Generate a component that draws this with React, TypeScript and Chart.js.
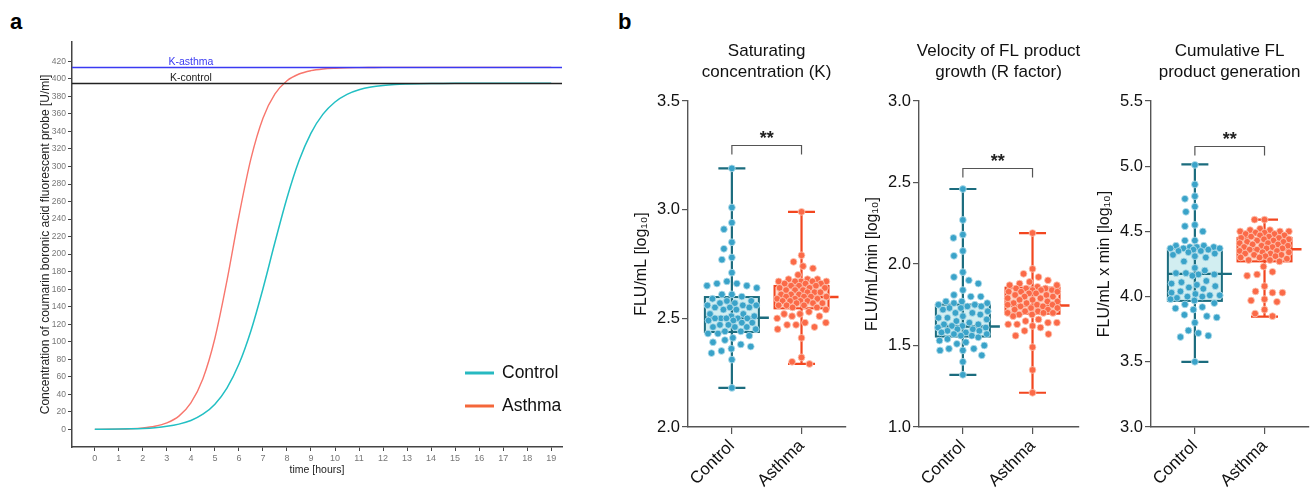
import React, { useEffect, useRef } from 'react';
import { Chart, registerables } from 'chart.js';

Chart.register(...registerables);

const FONT = "'Liberation Sans', Arial, Helvetica, sans-serif";

// ---------- Panel a: logistic growth curves ----------
const HOURS = [0, 0.5, 1, 1.5, 2, 2.5, 3, 3.5, 4, 4.5, 5, 5.5, 6, 6.5, 7, 7.5, 8, 8.5, 9, 9.5, 10, 10.5, 11, 11.5, 12, 12.5, 13, 13.5, 14, 14.5, 15, 15.5, 16, 16.5, 17, 17.5, 18, 18.5, 19];
const CONTROL_CURVE = [0.14, 0.24, 0.41, 0.71, 1.22, 2.09, 3.56, 6.09, 10.3, 17.4, 28.9, 47.2, 74.6, 112.7, 160.6, 213.5, 264.1, 306.5, 338.1, 359.7, 373.6, 382.3, 387.5, 390.6, 392.4, 393.5, 394.1, 394.5, 394.7, 394.8, 394.9, 395, 395, 395, 395, 395, 395, 395, 395];
const ASTHMA_CURVE = [0.1, 0.2, 0.42, 0.87, 1.79, 3.68, 7.52, 15.2, 30.3, 57.9, 104.1, 169.5, 243.5, 308.9, 355.1, 382.7, 397.8, 405.5, 409.3, 411.2, 412.1, 412.6, 412.8, 412.9, 413, 413, 413, 413, 413, 413, 413, 413, 413, 413, 413, 413, 413, 413, 413];
const K_CONTROL = 395;
const K_ASTHMA = 413;
const K_LABEL_HOUR = 4;
const TIME_TICKS = [0, 1, 2, 3, 4, 5, 6, 7, 8, 9, 10, 11, 12, 13, 14, 15, 16, 17, 18, 19];
const CONC_TICKS = [0, 20, 40, 60, 80, 100, 120, 140, 160, 180, 200, 220, 240, 260, 280, 300, 320, 340, 360, 380, 400, 420];
const LEGEND_LABELS = ['Control', 'Asthma'];

// ---------- Panel b: box plots ----------
const GROUPS = ['Control', 'Asthma'];

const K_CONTROL_VALUES = [3.19, 3.01, 2.94, 2.91, 2.85, 2.82, 2.78, 2.77, 2.71, 2.67, 2.66, 2.66, 2.65, 2.65, 2.64, 2.61, 2.61, 2.60, 2.59, 2.58, 2.58, 2.57, 2.57, 2.56, 2.56, 2.56, 2.55, 2.55, 2.55, 2.54, 2.54, 2.52, 2.52, 2.51, 2.51, 2.50, 2.50, 2.50, 2.50, 2.50, 2.49, 2.49, 2.48, 2.48, 2.47, 2.47, 2.46, 2.46, 2.46, 2.45, 2.44, 2.44, 2.43, 2.43, 2.42, 2.41, 2.40, 2.39, 2.38, 2.37, 2.36, 2.35, 2.34, 2.31, 2.18];
const K_ASTHMA_VALUES = [2.99, 2.79, 2.76, 2.74, 2.73, 2.70, 2.68, 2.68, 2.68, 2.67, 2.67, 2.67, 2.67, 2.67, 2.66, 2.66, 2.66, 2.65, 2.65, 2.65, 2.64, 2.64, 2.64, 2.63, 2.63, 2.63, 2.62, 2.62, 2.62, 2.61, 2.61, 2.61, 2.60, 2.60, 2.60, 2.60, 2.59, 2.59, 2.59, 2.58, 2.58, 2.58, 2.58, 2.57, 2.57, 2.57, 2.56, 2.56, 2.56, 2.55, 2.55, 2.54, 2.53, 2.52, 2.52, 2.51, 2.51, 2.50, 2.48, 2.48, 2.47, 2.47, 2.46, 2.45, 2.41, 2.32, 2.30, 2.29];
const K_CONTROL_BOX = [2.18, 2.437, 2.503, 2.598, 3.19]; // min, q1, median, q3, max
const K_ASTHMA_BOX = [2.29, 2.546, 2.598, 2.649, 2.99];

const R_CONTROL_VALUES = [2.46, 2.27, 2.18, 2.16, 2.08, 2.05, 1.95, 1.92, 1.90, 1.88, 1.84, 1.81, 1.80, 1.80, 1.77, 1.77, 1.76, 1.76, 1.75, 1.75, 1.74, 1.74, 1.73, 1.73, 1.72, 1.71, 1.70, 1.70, 1.69, 1.68, 1.67, 1.67, 1.66, 1.65, 1.64, 1.63, 1.63, 1.62, 1.62, 1.61, 1.61, 1.60, 1.60, 1.59, 1.59, 1.58, 1.58, 1.57, 1.57, 1.56, 1.56, 1.55, 1.54, 1.53, 1.52, 1.51, 1.50, 1.48, 1.48, 1.47, 1.47, 1.44, 1.40, 1.32];
const R_ASTHMA_VALUES = [2.19, 1.97, 1.94, 1.92, 1.90, 1.89, 1.88, 1.87, 1.87, 1.86, 1.85, 1.85, 1.85, 1.84, 1.84, 1.84, 1.83, 1.83, 1.83, 1.82, 1.82, 1.81, 1.81, 1.80, 1.80, 1.79, 1.79, 1.78, 1.78, 1.77, 1.77, 1.76, 1.76, 1.75, 1.75, 1.75, 1.74, 1.74, 1.73, 1.73, 1.72, 1.72, 1.71, 1.71, 1.70, 1.70, 1.70, 1.69, 1.69, 1.68, 1.66, 1.65, 1.64, 1.64, 1.63, 1.63, 1.62, 1.61, 1.59, 1.57, 1.56, 1.49, 1.35, 1.21];
const R_CONTROL_BOX = [1.32, 1.555, 1.617, 1.751, 2.46];
const R_ASTHMA_BOX = [1.21, 1.695, 1.745, 1.855, 2.19];

const C_CONTROL_VALUES = [5.01, 4.86, 4.77, 4.75, 4.69, 4.65, 4.55, 4.54, 4.50, 4.43, 4.43, 4.39, 4.39, 4.38, 4.38, 4.38, 4.37, 4.37, 4.37, 4.36, 4.36, 4.35, 4.35, 4.34, 4.33, 4.32, 4.31, 4.30, 4.27, 4.22, 4.20, 4.18, 4.18, 4.17, 4.17, 4.16, 4.12, 4.11, 4.10, 4.09, 4.08, 4.07, 4.06, 4.04, 4.03, 4.02, 4.01, 4.01, 4.00, 4.00, 3.99, 3.98, 3.97, 3.95, 3.94, 3.92, 3.91, 3.90, 3.86, 3.85, 3.84, 3.80, 3.74, 3.72, 3.70, 3.69, 3.50];
const C_ASTHMA_VALUES = [4.59, 4.59, 4.52, 4.51, 4.51, 4.50, 4.50, 4.50, 4.49, 4.49, 4.48, 4.48, 4.47, 4.47, 4.46, 4.46, 4.45, 4.45, 4.44, 4.44, 4.43, 4.43, 4.42, 4.42, 4.41, 4.41, 4.40, 4.40, 4.39, 4.39, 4.38, 4.38, 4.37, 4.37, 4.36, 4.36, 4.35, 4.35, 4.34, 4.34, 4.33, 4.33, 4.32, 4.32, 4.31, 4.31, 4.30, 4.30, 4.29, 4.28, 4.28, 4.27, 4.23, 4.19, 4.17, 4.16, 4.08, 4.04, 4.03, 4.03, 3.98, 3.97, 3.96, 3.90, 3.87, 3.85];
const C_CONTROL_BOX = [3.5, 3.967, 4.174, 4.37, 5.014];
const C_ASTHMA_BOX = [3.847, 4.27, 4.363, 4.45, 4.59];

const K_TICKS = [2.0, 2.5, 3.0, 3.5];
const R_TICKS = [1.0, 1.5, 2.0, 2.5, 3.0];
const C_TICKS = [3.0, 3.5, 4.0, 4.5, 5.0, 5.5];

const SIGNIFICANCE = '**';

type Sub = {
  title: string[];
  yTitle: string;
  yMin: number;
  yMax: number;
  yTicks: number[];
  control: number[];
  asthma: number[];
  controlBox: number[];
  asthmaBox: number[];
  bracket: number;
  left: number;
  right: number;
};

const SUBS: Sub[] = [
  { title: ['Saturating', 'concentration (K)'], yTitle: 'FLU/mL [log₁₀]', yMin: 2, yMax: 3.5, yTicks: K_TICKS, control: K_CONTROL_VALUES, asthma: K_ASTHMA_VALUES, controlBox: K_CONTROL_BOX, asthmaBox: K_ASTHMA_BOX, bracket: 3.296, left: 688, right: 846 },
  { title: ['Velocity of FL product', 'growth (R factor)'], yTitle: 'FLU/mL/min [log₁₀]', yMin: 1, yMax: 3, yTicks: R_TICKS, control: R_CONTROL_VALUES, asthma: R_ASTHMA_VALUES, controlBox: R_CONTROL_BOX, asthmaBox: R_ASTHMA_BOX, bracket: 2.586, left: 919, right: 1079 },
  { title: ['Cumulative FL', 'product generation'], yTitle: 'FLU/mL x min [log₁₀]', yMin: 3, yMax: 5.5, yTicks: C_TICKS, control: C_CONTROL_VALUES, asthma: C_ASTHMA_VALUES, controlBox: C_CONTROL_BOX, asthmaBox: C_ASTHMA_BOX, bracket: 5.156, left: 1151, right: 1309 },
];

const PLOT_TOP = 101;
const PLOT_BOTTOM = 427;
const Y_AXIS_W = 60;
const X_MIN = -0.63;
const PX_PER_X = 70;
const BOX_HALF = 27;
const CAP_HALF = 13.5;

const GROUP_STYLE = [
  { line: '#1b6c7e', box: '#d2eef1', point: '#3aa3c9', pointBorder: '#b9e0ec' },
  { line: '#f2461f', box: '#fdd8cb', point: '#fb6a48', pointBorder: '#fdc9b8' },
];

function swarmOffsets(values: number[], pxPerUnit: number, maxHalf: number, d: number): number[] {
  const order = values.map((_, i) => i).sort((a, b) => values[b] - values[a]);
  const placed: { x: number; y: number }[] = [];
  const out = new Array(values.length).fill(0);
  for (const i of order) {
    const y = values[i] * pxPerUnit;
    let dist = d;
    let found: number | null = null;
    while (found === null) {
      const steps = Math.ceil(maxHalf / 0.5);
      for (let k = 0; k <= steps * 2; k++) {
        const cand = (k % 2 === 0 ? 1 : -1) * Math.ceil(k / 2) * 0.5;
        let ok = true;
        for (const p of placed) {
          const dx = p.x - cand;
          const dy = p.y - y;
          if (dx * dx + dy * dy < dist * dist) { ok = false; break; }
        }
        if (ok) { found = cand; break; }
      }
      dist *= 0.9;
    }
    placed.push({ x: found, y });
    out[i] = found;
  }
  return out;
}

function makePanelA(canvas: HTMLCanvasElement) {
  const plugin = {
    id: 'panelA',
    afterDatasetsDraw(chart: any) {
      const { ctx, chartArea, scales } = chart;
      const x = scales.x;
      const y = scales.y;
      const drawK = (val: number, color: string, label: string) => {
        const py = Math.round(y.getPixelForValue(val)) + 0.5;
        ctx.save();
        ctx.strokeStyle = color;
        ctx.lineWidth = 1.5;
        ctx.beginPath();
        ctx.moveTo(chartArea.left, py);
        ctx.lineTo(chartArea.right, py);
        ctx.stroke();
        ctx.fillStyle = color;
        ctx.font = `10.5px ${FONT}`;
        ctx.textAlign = 'center';
        ctx.textBaseline = 'alphabetic';
        ctx.fillText(label, x.getPixelForValue(K_LABEL_HOUR), py - 2.5);
        ctx.restore();
      };
      drawK(K_CONTROL, '#222222', 'K-control');
      drawK(K_ASTHMA, '#3a3af2', 'K-asthma');
      // legend
      const colors = ['#27b9c1', '#f4673a'];
      LEGEND_LABELS.forEach((lab, i) => {
        const ly = chartArea.bottom - 74 + i * 33;
        ctx.save();
        ctx.strokeStyle = colors[i];
        ctx.lineWidth = 3;
        ctx.beginPath();
        ctx.moveTo(chartArea.right - 97, ly);
        ctx.lineTo(chartArea.right - 68, ly);
        ctx.stroke();
        ctx.fillStyle = '#111';
        ctx.font = `17.5px ${FONT}`;
        ctx.textAlign = 'left';
        ctx.textBaseline = 'middle';
        ctx.fillText(lab, chartArea.right - 60, ly);
        ctx.restore();
      });
    },
  };
  return new Chart(canvas, {
    type: 'line',
    data: {
      datasets: [
        { label: 'Control', data: HOURS.map((t, i) => ({ x: t, y: CONTROL_CURVE[i] })), borderColor: '#22bfc3', borderWidth: 1.5, pointRadius: 0, cubicInterpolationMode: 'monotone', fill: false },
        { label: 'Asthma', data: HOURS.map((t, i) => ({ x: t, y: ASTHMA_CURVE[i] })), borderColor: '#f8766d', borderWidth: 1.4, pointRadius: 0, cubicInterpolationMode: 'monotone', fill: false },
      ],
    },
    options: {
      animation: false,
      responsive: false,
      events: [],
      layout: { padding: { left: 35, right: 38, top: 42, bottom: 27 } },
      scales: {
        x: {
          type: 'linear', min: -0.95, max: 19.45,
          afterBuildTicks: (s: any) => { s.ticks = TIME_TICKS.map((v) => ({ value: v })); },
          afterFit: (s: any) => { s.height = 29; },
          grid: { display: true, drawOnChartArea: false, drawTicks: true, tickLength: 4, color: '#444', lineWidth: 1 },
          border: { display: true, color: '#444', width: 1.5 },
          ticks: { color: '#777', font: { size: 9, family: FONT }, padding: 2, autoSkip: false, maxRotation: 0, callback: (v: any) => String(v) },
          title: { display: true, text: 'time [hours]', color: '#222', font: { size: 10.5, family: FONT }, padding: { top: 0, bottom: 0 } },
        },
        y: {
          type: 'linear', min: -20, max: 442,
          afterBuildTicks: (s: any) => { s.ticks = CONC_TICKS.map((v) => ({ value: v })); },
          afterFit: (s: any) => { s.width = 37; },
          grid: { display: true, drawOnChartArea: false, drawTicks: true, tickLength: 4, color: '#444', lineWidth: 1 },
          border: { display: true, color: '#444', width: 1.5 },
          ticks: { color: '#777', font: { size: 8.5, family: FONT }, padding: 2, autoSkip: false, callback: (v: any) => String(v) },
          title: { display: true, text: 'Concentration of coumarin boronic acid fluorescent probe [U/ml]', color: '#222', font: { size: 12, family: FONT }, padding: { top: 3, bottom: 0 } },
        },
      },
      plugins: { legend: { display: false }, tooltip: { enabled: false }, title: { display: false } },
    },
    plugins: [plugin],
  } as any);
}

function makeSub(canvas: HTMLCanvasElement, sub: Sub) {
  const plotW = sub.right - sub.left;
  const xMax = X_MIN + plotW / PX_PER_X;
  const pxPerY = (PLOT_BOTTOM - PLOT_TOP) / (sub.yMax - sub.yMin);
  const groups = [sub.control, sub.asthma];
  const boxes = [sub.controlBox, sub.asthmaBox];
  const datasets = groups.map((vals, gi) => {
    const offs = swarmOffsets(vals, pxPerY, BOX_HALF - 2, 10);
    return {
      label: GROUPS[gi],
      data: vals.map((v, i) => ({ x: gi + offs[i] / PX_PER_X, y: v })),
      backgroundColor: GROUP_STYLE[gi].point,
      borderColor: GROUP_STYLE[gi].pointBorder,
      borderWidth: 0.8,
      pointRadius: 3.4,
      showLine: false,
      clip: false,
    };
  });
  const plugin = {
    id: 'boxes',
    beforeDatasetsDraw(chart: any) {
      const { ctx, scales } = chart;
      const x = scales.x;
      const y = scales.y;
      boxes.forEach((b, gi) => {
        const st = GROUP_STYLE[gi];
        const cx = x.getPixelForValue(gi);
        const [mn, q1, md, q3, mx] = b.map((v) => y.getPixelForValue(v));
        ctx.save();
        ctx.fillStyle = st.box;
        ctx.fillRect(cx - BOX_HALF, q3, BOX_HALF * 2, q1 - q3);
        ctx.strokeStyle = st.line;
        ctx.lineWidth = 2.2;
        ctx.beginPath();
        ctx.moveTo(cx, mx); ctx.lineTo(cx, mn);
        ctx.moveTo(cx - CAP_HALF, mx); ctx.lineTo(cx + CAP_HALF, mx);
        ctx.moveTo(cx - CAP_HALF, mn); ctx.lineTo(cx + CAP_HALF, mn);
        ctx.stroke();
        ctx.lineWidth = 2;
        ctx.strokeRect(cx - BOX_HALF, q3, BOX_HALF * 2, q1 - q3);
        ctx.lineWidth = 2.4;
        ctx.beginPath();
        ctx.moveTo(cx - BOX_HALF, md); ctx.lineTo(cx + BOX_HALF + 10, md);
        ctx.stroke();
        ctx.restore();
      });
    },
    afterDraw(chart: any) {
      const { ctx, chartArea, scales } = chart;
      const x = scales.x;
      const y = scales.y;
      const cxMid = (chartArea.left + chartArea.right) / 2;
      ctx.save();
      ctx.fillStyle = '#111';
      ctx.font = `17px ${FONT}`;
      ctx.textAlign = 'center';
      ctx.textBaseline = 'middle';
      sub.title.forEach((t, i) => ctx.fillText(t, cxMid, 51 + i * 21.5));
      // significance bracket
      const by = Math.round(y.getPixelForValue(sub.bracket)) + 0.5;
      const x0 = x.getPixelForValue(0);
      const x1 = x.getPixelForValue(1);
      ctx.strokeStyle = '#555';
      ctx.lineWidth = 1.2;
      ctx.beginPath();
      ctx.moveTo(x0, by + 9); ctx.lineTo(x0, by); ctx.lineTo(x1, by); ctx.lineTo(x1, by + 9);
      ctx.stroke();
      ctx.fillStyle = '#222';
      ctx.font = `bold 18px ${FONT}`;
      ctx.textBaseline = 'alphabetic';
      ctx.fillText(SIGNIFICANCE, (x0 + x1) / 2, by - 2);
      ctx.restore();
    },
  };
  return new Chart(canvas, {
    type: 'scatter',
    data: { datasets },
    options: {
      animation: false,
      responsive: false,
      events: [],
      layout: { padding: { left: 0, right: 4, top: PLOT_TOP, bottom: 0 } },
      scales: {
        x: {
          type: 'linear', min: X_MIN, max: xMax,
          afterBuildTicks: (s: any) => { s.ticks = GROUPS.map((_, i) => ({ value: i })); },
          afterFit: (s: any) => { s.height = 503 - PLOT_BOTTOM; },
          grid: { display: true, drawOnChartArea: false, drawTicks: true, tickLength: 7, color: '#555', lineWidth: 1.2 },
          border: { display: true, color: '#555', width: 1.4 },
          ticks: { color: '#111', font: { size: 17, family: FONT }, padding: 2, autoSkip: false, minRotation: 45, maxRotation: 45, callback: (v: any) => GROUPS[Math.round(v)] ?? '' },
        },
        y: {
          type: 'linear', min: sub.yMin, max: sub.yMax,
          afterBuildTicks: (s: any) => { s.ticks = sub.yTicks.map((v) => ({ value: v })); },
          afterFit: (s: any) => { s.width = Y_AXIS_W; },
          grid: { display: true, drawOnChartArea: false, drawTicks: true, tickLength: 6, color: '#555', lineWidth: 1.2 },
          border: { display: true, color: '#555', width: 1.4 },
          ticks: { color: '#111', font: { size: 16.5, family: FONT }, padding: 2, autoSkip: false, callback: (v: any) => Number(v).toFixed(1) },
          title: { display: true, text: sub.yTitle, color: '#111', font: { size: 16, family: FONT }, padding: { top: 4, bottom: 0 } },
        },
      },
      plugins: { legend: { display: false }, tooltip: { enabled: false } },
    },
    plugins: [plugin],
  } as any);
}

export default function App() {
  const aRef = useRef<HTMLCanvasElement>(null);
  const b0 = useRef<HTMLCanvasElement>(null);
  const b1 = useRef<HTMLCanvasElement>(null);
  const b2 = useRef<HTMLCanvasElement>(null);
  const bRefs = [b0, b1, b2];

  useEffect(() => {
    const charts: Chart[] = [];
    if (aRef.current) charts.push(makePanelA(aRef.current));
    SUBS.forEach((s, i) => {
      const c = bRefs[i].current;
      if (c) charts.push(makeSub(c, s));
    });
    return () => charts.forEach((c) => c.destroy());
  }, []);

  const labelStyle: React.CSSProperties = { position: 'absolute', top: 11, fontFamily: FONT, fontWeight: 'bold', fontSize: 22, lineHeight: '22px', color: '#000' };

  return (
    <div style={{ position: 'absolute', left: 0, top: 0, width: 1314, height: 503, background: '#fff', overflow: 'hidden' }}>
      <div style={{ ...labelStyle, left: 10 }}>a</div>
      <div style={{ ...labelStyle, left: 618 }}>b</div>
      <canvas ref={aRef} width={600} height={503} style={{ position: 'absolute', left: 0, top: 0, width: 600, height: 503 }} />
      {SUBS.map((s, i) => {
        const w = Y_AXIS_W + (s.right - s.left) + 4;
        return (
          <canvas key={i} ref={bRefs[i]} width={w} height={503} style={{ position: 'absolute', left: s.left - Y_AXIS_W, top: 0, width: w, height: 503 }} />
        );
      })}
    </div>
  );
}
